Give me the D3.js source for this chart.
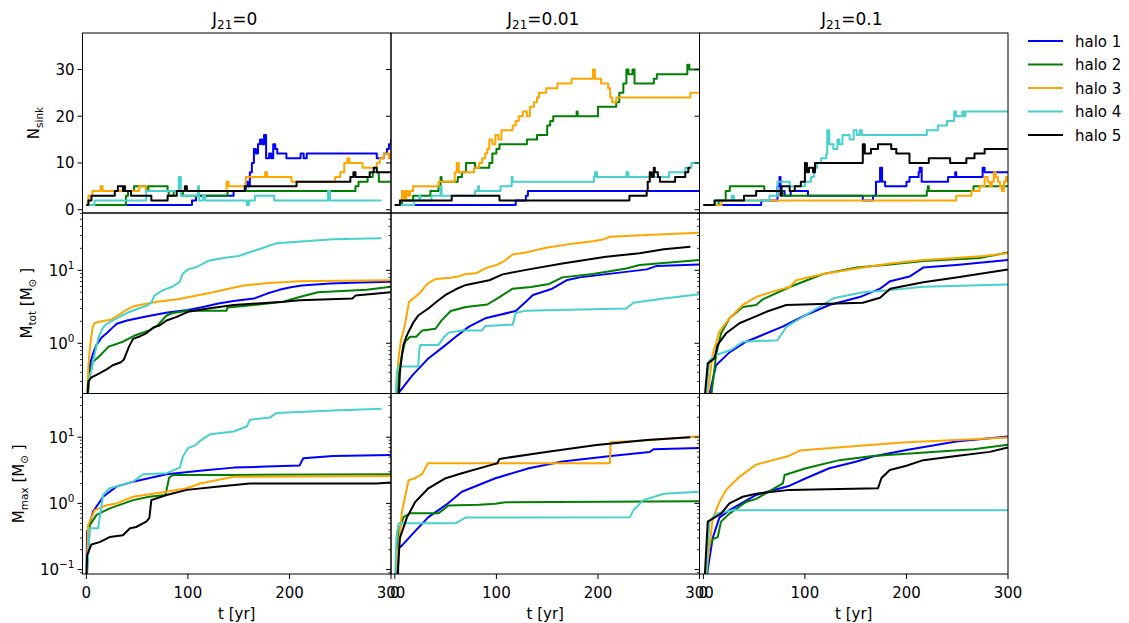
<!DOCTYPE html>
<html><head><meta charset="utf-8">
<script src="https://d3js.org/d3.v7.min.js"></script>
<style>body{margin:0;background:#fff} text{font-family:"DejaVu Sans",sans-serif;fill:#000}</style>
</head><body>
<svg id="c" width="1129" height="623"></svg>
<script>
const halos = ["halo 1","halo 2","halo 3","halo 4","halo 5"];
const colors = ["#0000ff","#008000","#ffa500","#48d1cc","#000000"];
const j21Labels = ["0","0.01","0.1"];
const xTicks = [0,100,200,300];
const nTicks = [0,10,20,30];
const totExps = [0,1];
const maxExps = [-1,0,1];

// series: flat [t, v, t, v, ...] ; order halo 1..5
const nsink_J0 = [
 [0,1,103,1,104,2,108,3,138,3,145,4,155,4,157,6,159,5,161,8,163,10,165,13,167,12,169,14,171,15,173,14,175,16,177,11,180,12,182,11,184,14,186,13,188,12,196,12,197,11,210,11,211,12,214,11,217,12,285,12,286,11,292,11,293,12,296,13,298,14,300,15],
 [0,1,38,1,39,3,41,4,47,5,59,4,61,5,79,5,80,4,81,3,86,4,95,3,138,3,139,4,264,4,265,5,268,6,277,7,282,8,288,6,300,6],
 [0,1,2,3,6,4,14,5,16,4,52,5,59,4,138,6,140,5,157,7,176,8,178,7,202,6,245,7,250,8,254,10,257,11,259,10,272,9,286,10,289,11,293,12,298,11,300,12],
 [0,1,8,2,59,4,91,7,93,3,110,5,111,2,115,3,117,2,158,1,160,2,166,3,185,2,238,4,240,2,290.7,2],
 [0,1,2,2,5,3,28,4,31,5,36,4,37,5,38,4,44,3,64,2,80,3,89,4,97,5,99,4,156,5,207,6,260,7,263,8,265,7,279,8,283,9,286,8,300,8]
];
const nsink_J001 = [
 [0,1,119,2,129,3,131,4,300,4],
 [0,1,7,2,18,3,35,4,43,5,45,7,46,6,62,7,66,8,70,10,79,9,93,10,96,12,100,13,103,14,123,14,130,15,136,15,140,16,146,16,150,18,153,19,156,20,178,20,179,21,180,20,198,20,200,22,215,22,218,23,221,25,225,27,228,30,230,29,234,30,236,27,254,27,255,28,258,29,287,29,288,31,290,30,300,30],
 [0,1,5,2,7,4,9,2,11,4,13,3,15,4,18,5,24,5,43,6,59,8,61,10,63,8,78,9,83,10,86,11,89,12,91,13,93,15,96,14,99,16,102,15,105,17,110,17,116,18,119,19,122,20,126,21,130,20,133,22,137,23,140,24,142,25,149,26,160,27,174,28,195,30,197,28,203,27,210,26,212,24,214,23,218,24,291,25,300,25],
 [0,1,19,2,24,3,25,2,36,3,45,5,46,3,79,4,82,5,83,4,104,5,115,7,116,6,196,7,197,8,199,7,228,8,230,7,270,8,286,9,292,10,300,10],
 [0,1,5,2,56,3,103,2,231,3,248,4,249,6,251,8,253,7,255,9,256,8,259,7,261,6,276,7,286,8,289,9,291,9]
];
const nsink_J01 = [
 [0,1,57,2,73,5,75,7,76,4,80,3,86,4,103,3,157,2,167,3,170,6,174,9,176,6,179,5,200,6,203,7,212,8,213,9,215,6,241,7,248,8,249,7,275,9,277,8,300,8],
 [0,1,15,2,22,4,26,5,60,4,78,3,220,4,221,5,222,4,266,5,300,5],
 [0,1,18,2,249,3,264,4,272,5,277,7,280,6,282,5,284,6,286,8,288,7,290,6,292,5,294,4,296,6,298,7,300,6],
 [0,1,12,2,28,3,30,2,65,3,73,6,85,5,100,6,106,7,109,9,112,10,116,11,121,12,122,17,124,14,128,13,132,15,134,14,137,16,144,15,148,17,151,16,154,17,156,16,220,17,231,18,240,19,247,21,249,20,255,21,257,20,258,21,300,21],
 [0,1,11,2,40,3,52,4,76,3,77,5,85,4,90,5,96,6,100,10,102,8,104,9,108,8,110,10,156,10,157,14,159,12,165,13,172,14,185,13,190,12,203,10,222,11,243,10,259,11,267,12,277,13,300,13]
];
const mtot_J0 = [
 [0,0.1,2,0.35,4,0.55,7,0.75,10,0.95,15,1.2,20,1.37,25,1.6,30,1.85,40,2.05,60,2.35,80,2.65,100,2.85,115,3.15,130,3.5,145,3.8,165,4.1,178,4.8,190,5.4,200,5.8,212,6.2,240,6.6,270,6.8,300,6.95],
 [0,0.1,3,0.35,6,0.55,12,0.65,22,0.9,36,1.05,49,1.3,62,1.5,70,1.75,79,2.4,85,2.6,100,2.8,138,2.8,139,3.1,160,3.3,194,3.7,210,4.3,228,5.0,276,5.4,300,5.95],
 [0,0.1,2,0.5,4,1.0,6,1.6,8,1.9,15,2.0,24,2.1,30,2.35,40,2.9,46,3.2,55,3.4,70,3.7,90,4.0,105,4.4,125,5.0,140,5.6,155,6.2,180,6.7,210,7.1,250,7.2,300,7.3],
 [0,0.1,2,0.3,5,0.42,8,0.7,12,1.2,16,1.6,20,1.85,30,2.2,40,2.6,50,2.95,60,3.3,64,3.6,67,4.5,75,5.3,85,6.0,90,6.6,92,7.0,95,9.0,100,10.3,108,11.0,112,11.8,120,13.5,138,15.0,150,15.7,160,17.5,175,20.5,187,23.4,243,26.6,290.7,27.4],
 [0,0.1,2,0.3,5,0.34,10,0.37,20,0.44,26,0.5,34,0.55,37,0.6,42,0.9,46,1.15,53,1.25,59,1.37,66,1.65,72,1.75,79,2.05,89,2.3,100,2.7,120,3.0,145,3.35,194,3.7,210,3.9,262,4.1,265,4.5,300,5.0]
];
const mtot_J001 = [
 [2,0.15,4,0.21,17,0.36,33,0.62,48,0.9,60,1.23,73,1.69,89,2.2,119,2.77,129,3.7,136,4.59,155,5.6,169,7.3,182,8.0,248,10.3,258,11.5,300,12],
 [1,0.1,4,0.4,7,0.69,10,1.05,15,1.23,21,1.23,27,1.5,40,1.58,46,2.06,55,2.77,70,3.15,91,3.4,103,4.3,116,5.6,134,5.9,152,6.5,165,8.0,195,8.9,228,10.6,241,11.8,300,13.8],
 [0,0.1,2,0.35,4,0.7,6,1.1,8,1.4,10,1.8,12,2.6,14,3.7,20,4.3,24,4.8,28,5.6,32,6.5,40,7.6,55,7.9,62,8.2,70,8.9,80,9.1,90,10.8,100,11.8,108,13.5,116,16.5,129,17.5,149,20.4,175,23.2,195,25.1,205,26.5,212,28.8,248,30.5,300,32.8],
 [0,0.1,2,0.4,3.6,0.48,23,0.48,24,0.8,25,0.95,43,0.95,48,1.2,53,1.4,66,1.5,86,1.5,89,1.73,116,1.8,119,2.6,129,2.8,228,3.0,235,3.6,265,4.1,300,4.7],
 [3,0.1,5,0.4,7,0.7,8.5,0.95,11,1.2,13.5,1.44,18,1.9,23,2.4,33,3.0,42,3.8,50,4.6,60,5.5,70,6.3,93,7.3,106,8.8,132,10.3,165,12.4,208,15.3,241,17.1,265,19.4,291,21.1]
];
const mtot_J01 = [
 [5,0.1,6,0.2,12.5,0.5,25.7,0.75,42,1.05,78,1.69,101,2.44,124,3.35,154,4.3,174,5.6,184,7.1,203,8.2,216.5,10.9,249,11.8,300,13.8],
 [6,0.1,8,0.2,12.5,0.69,17.5,1.37,25.7,2.2,38.8,3.15,52,3.35,58.5,4.0,85,5.9,118,8.9,151,10.9,184,12.0,216.5,13.4,273,14.8,300,17.5],
 [3,0.1,4.3,0.2,9,0.69,15.8,1.44,25.7,2.2,38.8,3.35,52,4.3,68,5.1,85,5.9,91.5,7.3,118,8.9,151,10.6,184,12.4,216.5,13.8,249,14.8,276,15.7,300,17.1],
 [2,0.1,2.6,0.2,6,0.58,12.5,0.69,27,0.81,39,1.05,73,1.1,82,1.69,101,2.44,128,4.14,157,5.0,184,5.35,216.5,5.95,300,6.4],
 [1,0.1,1.6,0.2,4.3,0.53,10.9,0.62,14,0.95,22.4,1.37,35.5,1.88,48.7,2.25,62,2.7,81.6,3.35,157,3.6,174,4.2,184,5.6,216.5,6.86,249,7.95,300,10.3]
];
const mmax_J0 = [
 [0,0.06,0.7,0.37,6.6,0.75,16.5,1.26,29.6,1.79,46,2.13,79,2.76,112,3.1,145,3.47,177,3.6,210,3.75,213.6,4.8,243,5.2,300,5.4],
 [0,0.06,3.4,0.47,10,0.67,23,0.84,46,1.12,62,1.26,78,1.34,79,1.6,81.5,2.44,85,2.69,145,2.69,300,2.76],
 [0,0.06,1.7,0.47,8.3,0.79,20,0.94,29.6,1.0,46,1.26,79,1.5,99,1.69,112,2.0,128,2.24,145,2.52,300,2.6],
 [0,0.06,3.4,0.42,11.6,0.42,16.5,1.34,23,1.69,46,2.13,56,2.76,79,2.86,92,3.47,95,5.1,100,6.8,108,7.65,112,8.8,122,11.1,145,12.2,158,14.5,161,18.3,181,19.9,187,23.1,243,25.4,290.7,26.9],
 [0,0.06,0.7,0.165,5,0.24,13,0.26,23,0.31,36,0.33,43,0.42,49,0.44,59,0.53,62,0.6,64,1.12,79,1.34,99,1.6,128,1.79,161,2.0,286,2.0,300,2.07]
];
const mmax_J001 = [
 [3,0.06,3.6,0.21,6.9,0.23,17,0.34,33,0.62,50,0.94,66,1.5,99,2.4,132,3.4,165,4.3,215,5.25,251,5.98,254.6,6.55,300,6.85],
 [2,0.06,3.6,0.37,8.5,0.62,15,0.71,43,0.71,53,0.93,83,0.95,99,0.99,109,1.04,300,1.08],
 [0,0.06,7,0.75,13.5,2.24,20,2.4,26.7,2.76,32.6,4.04,211.7,4.04,212.5,8.4,250,9.0,300,10.3],
 [0,0.06,1.5,0.3,3.6,0.5,59.7,0.5,69.6,0.61,231.5,0.62,235,0.79,244.7,1.12,265,1.4,300,1.5],
 [2,0.06,5,0.3,11.8,0.61,20,1.05,33,1.69,50,2.4,66,2.86,96,3.85,101,4.04,103,4.7,149,5.98,198.5,7.6,248,9.1,291,10.0]
];
const mmax_J01 = [
 [3,0.06,4.3,0.1,9.2,0.3,15.8,0.61,25.7,0.79,52,1.34,85,1.85,101,2.4,124,3.4,151,4.3,167,5.1,200,6.4,249,8.6,300,10.2],
 [3,0.06,5,0.2,9.2,0.29,14.2,0.31,17.4,0.53,25.7,0.7,42,1.05,52,1.17,78.3,2.0,80,2.69,101,3.4,134,4.5,167,5.2,200,5.6,266,6.6,300,7.7],
 [2,0.06,3.3,0.1,9.2,0.59,15.8,1.05,22.4,1.6,35.5,2.52,52,3.85,85,5.25,94.8,6.27,151,7.37,200,8.4,249.4,9.1,300,9.9],
 [2,0.06,6,0.53,12.5,0.7,29,0.79,300,0.79],
 [1,0.06,4.3,0.53,12.5,0.63,17.4,0.7,25.7,1.0,38.8,1.26,52,1.4,85,1.6,172,1.7,175.4,2.42,183.6,3.2,200,3.7,216.5,4.5,249,5.2,282,6.0,300,7.0]
];

const rowsData = [[nsink_J0,nsink_J001,nsink_J01],[mtot_J0,mtot_J001,mtot_J01],[mmax_J0,mmax_J001,mmax_J01]];

const svg = d3.select("#c");
const colX = [82.5, 391, 699.5];
const panelW = 308.5;
const rowY = [[33,213],[213,393.5],[393.5,574]];
const xDomain = [-3.8, 300];
const yScales = [
  d3.scaleLinear().domain([-0.7,37.8]).range([rowY[0][1],rowY[0][0]]),
  d3.scaleLog().domain([0.205,61]).range([rowY[1][1],rowY[1][0]]),
  d3.scaleLog().domain([0.0858,45.7]).range([rowY[2][1],rowY[2][0]])
];
const FS = 15;
const defs = svg.append("defs");

function pairs(a){const r=[];for(let i=0;i<a.length;i+=2)r.push([a[i],a[i+1]]);return r;}

for(let r=0;r<3;r++){
  for(let c=0;c<3;c++){
    const x = d3.scaleLinear().domain(xDomain).range([colX[c], colX[c]+panelW]);
    const y = yScales[r];
    const id = "clip"+r+c;
    defs.append("clipPath").attr("id",id).append("rect")
      .attr("x",colX[c]).attr("y",rowY[r][0]).attr("width",panelW).attr("height",rowY[r][1]-rowY[r][0]);
    const g = svg.append("g");
    const line = d3.line().x(d=>x(d[0])).y(d=>y(d[1])).curve(r===0?d3.curveStepAfter:d3.curveLinear);
    const series = rowsData[r][c];
    series.forEach((s,i)=>{
      g.append("path").attr("d",line(pairs(s))).attr("fill","none")
        .attr("stroke",colors[i]).attr("stroke-width",2).attr("stroke-linejoin","round")
        .attr("clip-path","url(#"+id+")");
    });
    // frame
    svg.append("rect").attr("x",colX[c]).attr("y",rowY[r][0]).attr("width",panelW)
      .attr("height",rowY[r][1]-rowY[r][0]).attr("fill","none").attr("stroke","#000").attr("stroke-width",1);
    // y ticks
    const ax = svg.append("g");
    if(r===0){
      nTicks.forEach(v=>{
        const yy=y(v);
        ax.append("line").attr("x1",colX[c]-5).attr("x2",colX[c]).attr("y1",yy).attr("y2",yy).attr("stroke","#000").attr("stroke-width",1);
        if(c===0) ax.append("text").attr("x",colX[c]-8).attr("y",yy+5.5).attr("text-anchor","end").attr("font-size",FS).text(v);
      });
    } else {
      const exps = r===1?totExps:maxExps;
      const dom = y.domain();
      for(let e=-2;e<=2;e++){
        for(let m=1;m<10;m++){
          const v=m*Math.pow(10,e);
          if(v<dom[0]||v>dom[1])continue;
          const yy=y(v);
          const len = m===1?5:2.5;
          ax.append("line").attr("x1",colX[c]-len).attr("x2",colX[c]).attr("y1",yy).attr("y2",yy).attr("stroke","#000").attr("stroke-width",m===1?1:0.8);
        }
      }
      if(c===0){
        exps.forEach(e=>{
          const yy=y(Math.pow(10,e));
          const t=ax.append("text").attr("x",colX[c]-8).attr("y",yy+5.5).attr("text-anchor","end").attr("font-size",FS);
          t.append("tspan").text("10");
          t.append("tspan").attr("dy",-7).attr("font-size",10.5).text(e<0?"\u2212"+(-e):String(e));
        });
      }
    }
    if(r===2){
      xTicks.forEach(v=>{
        const xx=x(v);
        ax.append("line").attr("x1",xx).attr("x2",xx).attr("y1",rowY[r][1]).attr("y2",rowY[r][1]+5).attr("stroke","#000").attr("stroke-width",1);
        ax.append("text").attr("x",xx).attr("y",597.5).attr("text-anchor","middle").attr("font-size",FS).text(v);
      });
      svg.append("text").attr("x",colX[c]+panelW/2).attr("y",619).attr("text-anchor","middle").attr("font-size",FS).text("t [yr]");
    }
    if(r===0){
      const t=svg.append("text").attr("x",colX[c]+panelW/2-2).attr("y",25).attr("text-anchor","middle").attr("font-size",17);
      t.append("tspan").text("J");
      t.append("tspan").attr("dy",4).attr("font-size",12).text("21");
      t.append("tspan").attr("dy",-4).text("="+j21Labels[c]);
    }
  }
}
// y labels
function ylab(xb, yc, main, sub, unit){
  const t=svg.append("text").attr("transform","translate("+xb+","+yc+") rotate(-90)").attr("text-anchor","middle").attr("font-size",FS);
  t.append("tspan").text(main);
  t.append("tspan").attr("dy",4).attr("font-size",10.5).text(sub);
  if(unit){
    t.append("tspan").attr("dy",-4).text(" [M");
    t.append("tspan").attr("dy",4).attr("font-size",10.5).text("\u2299");
    t.append("tspan").attr("dy",-4).text(" ]");
  }
}
ylab(39,(rowY[0][0]+rowY[0][1])/2,"N","sink",false);
ylab(32,(rowY[1][0]+rowY[1][1])/2,"M","tot",true);
ylab(24,(rowY[2][0]+rowY[2][1])/2,"M","max",true);

// legend
halos.forEach((h,i)=>{
  const yy = 41 + i*23.5;
  svg.append("line").attr("x1",1028).attr("x2",1063).attr("y1",yy).attr("y2",yy).attr("stroke",colors[i]).attr("stroke-width",2);
  svg.append("text").attr("x",1075).attr("y",yy+5.5).attr("font-size",FS).text(h);
});
</script>
</body></html>
